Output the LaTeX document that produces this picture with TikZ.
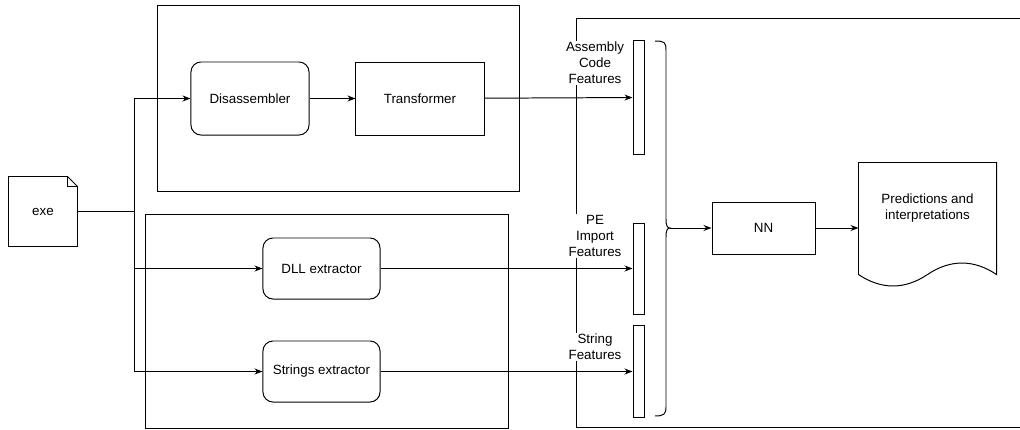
\documentclass[tikz,border=0pt]{standalone}
\usepackage{fontspec}
\setmainfont{Liberation Sans}
\usetikzlibrary{arrows.meta}
\begin{document}
\begin{tikzpicture}[x=0.025cm,y=-0.025cm,line width=0.7pt,>={Stealth[length=2mm,width=1.5mm]},
  font=\fontsize{9.5}{11.5}\selectfont,
  proc/.style={draw,rounded corners=2.5mm,align=center},
  box/.style={draw,align=center},
  bar/.style={draw,minimum width=2.75mm,inner sep=0pt},
  lbl/.style={fill=white,align=center,inner sep=1pt}]
\useasboundingbox (0,0) rectangle (1020,429);
\draw (157,5) rectangle (519,191);
\draw (145,214) rectangle (508,428);
\draw (1020,18) -| (576,427) -- (1020,427);
\node[minimum width=1.7cm,minimum height=1.725cm] (exe) at (43,211.5) {exe};
\draw (exe.south west) -- (exe.north west) -- ([xshift=-2.5mm]exe.north east) -- ([yshift=-2.5mm]exe.north east) -- (exe.south east) -- cycle;
\draw ([xshift=-2.5mm]exe.north east) -- ([xshift=-2.5mm,yshift=-2.5mm]exe.north east) -- ([yshift=-2.5mm]exe.north east);
\node[proc,minimum width=2.95cm,minimum height=1.825cm] (dis) at (250,98.5) {Disassembler};
\node[box,minimum width=3.2cm,minimum height=1.825cm] (tr) at (420,98.5) {Transformer};
\node[proc,minimum width=2.925cm,minimum height=1.525cm] (dll) at (321.5,268.5) {DLL extractor};
\node[proc,minimum width=2.925cm,minimum height=1.525cm] (strx) at (321.5,371.5) {Strings extractor};
\node[bar,minimum height=2.825cm] (asm) at (638.5,97.5) {};
\node[bar,minimum height=2.275cm] (pe) at (638.5,268.5) {};
\node[bar,minimum height=2.3cm] (strf) at (638.5,371.5) {};
\node[lbl] (asmlbl) at (595,63) {Assembly\\Code\\Features};
\node[lbl] (pelbl) at (595,236) {PE\\Import\\Features};
\node[lbl] (strlbl) at (595,347) {String\\Features};
\node[box,minimum width=2.575cm,minimum height=1.3cm] (nn) at (763.5,228) {NN};
\node[minimum width=3.425cm,minimum height=2.775cm] (pred) at (927.5,218.5) {};
\node[align=center] (predtxt) at (927.5,208) {Predictions and\\interpretations};
\draw (pred.south west) -- (pred.north west) -- (pred.north east) -- (pred.south east)
  .. controls +(-22.8,-15.3) and +(22.8,-15.3) .. (pred.south)
  .. controls +(-22.8,15.3) and +(22.8,15.3) .. (pred.south west);
% brace
\draw (655,41) .. controls (664,41) and (666,42) .. (666,50) -- (666,219)
  .. controls (666,225) and (667,228) .. (670,228) coordinate (tip)
  .. controls (667,228) and (666,231) .. (666,237) -- (666,407)
  .. controls (666,414) and (664,416) .. (655,416);
\coordinate (split) at (134,211.5);
\draw (exe) -- (split);
\draw[->] (split) |- (dis);
\draw[->] (split) |- (dll);
\draw[->] (split) |- (strx);
\draw[->] (dis) -- (tr);
\draw[->] (tr) -- (asm);
\draw[->] (dll) -- (pe);
\draw[->] (strx) -- (strf);
\draw[->] (tip) -- (nn);
\draw[->] (nn) -- (nn -| pred.west);
\end{tikzpicture}
\end{document}
